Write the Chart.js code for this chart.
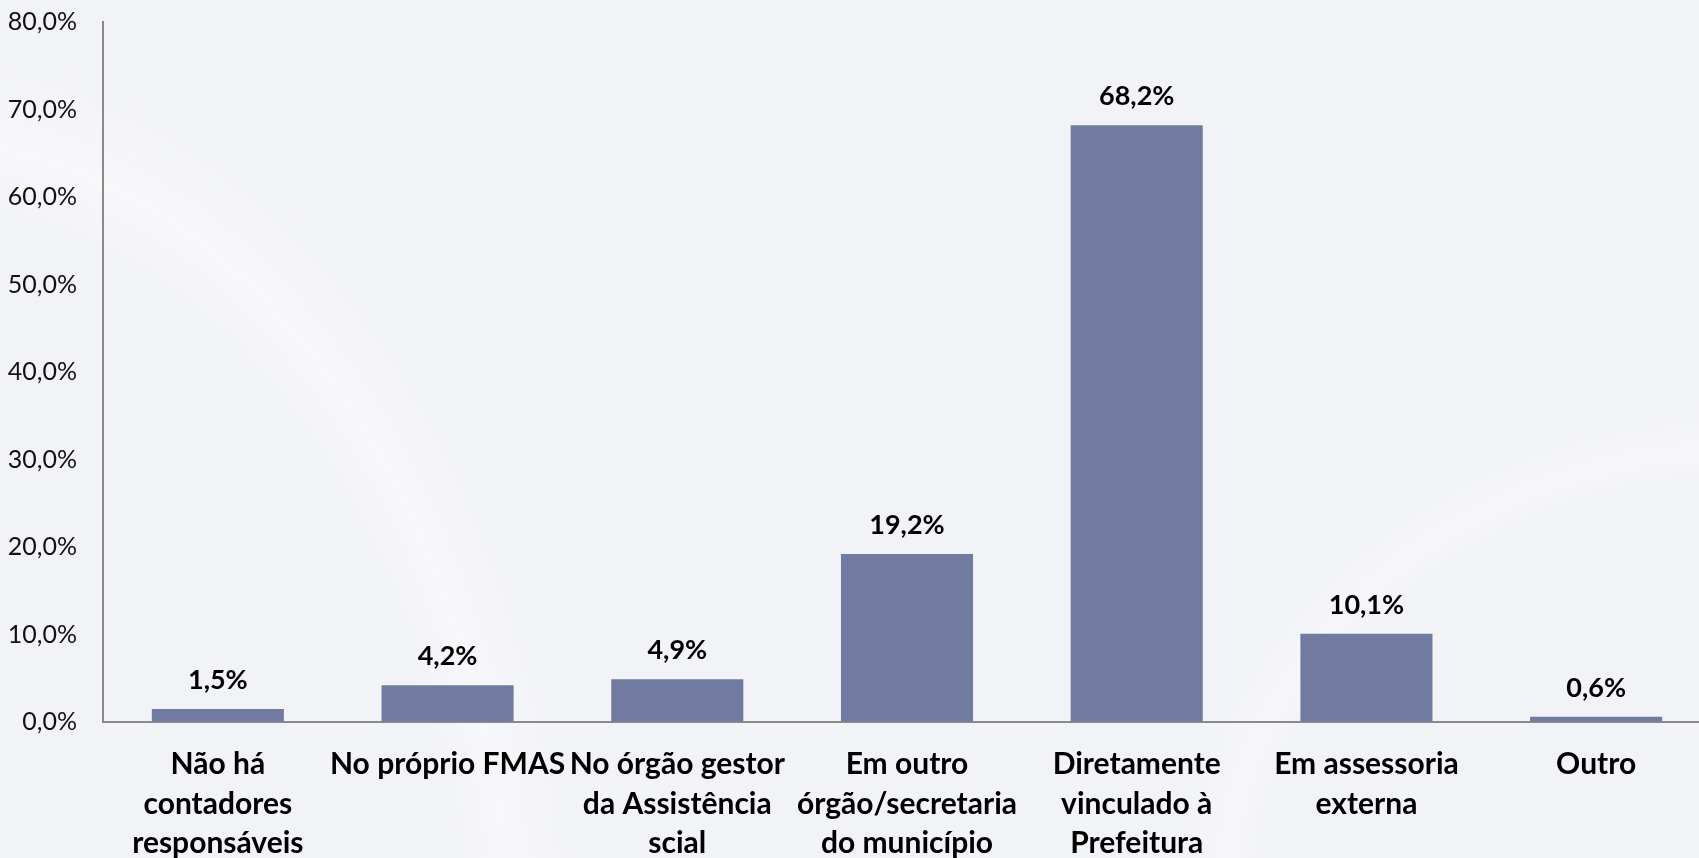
<!DOCTYPE html>
<html>
<head>
<meta charset="utf-8">
<script src="https://cdn.jsdelivr.net/npm/chart.js@4/dist/chart.umd.min.js"></script>
<style>
html,body{margin:0;padding:0;width:1699px;height:858px;overflow:hidden;}
body{background:#f2f3f7;
background-image:
 radial-gradient(ellipse 900px 1300px at -80px 1000px, rgba(255,255,255,0) 60%, rgba(255,255,255,0.4) 66%, rgba(255,255,255,0) 74%),
 radial-gradient(ellipse 700px 600px at 1750px 900px, rgba(255,255,255,0) 70%, rgba(255,255,255,0.35) 75%, rgba(255,255,255,0) 82%);
}
#wrap{position:absolute;left:0;top:0;width:1720px;height:858px;}
</style>
</head>
<body>
<div id="wrap"><canvas id="c"></canvas></div>
<script>
const categories = [
  ["Não há","contadores","responsáveis"],
  "No próprio FMAS",
  ["No órgão gestor","da Assistência","scial"],
  ["Em outro","órgão/secretaria","do município"],
  ["Diretamente","vinculado à","Prefeitura"],
  ["Em assessoria","externa"],
  "Outro"
];
const values = [1.5, 4.2, 4.9, 19.2, 68.2, 10.1, 0.6];
const yTicks = [0,10,20,30,40,50,60,70,80];

const fmt = v => v.toFixed(1).replace('.', ',') + '%';

const labelPlugin = {
  id: 'valueLabels',
  afterDatasetsDraw(chart){
    const ctx = chart.ctx;
    const meta = chart.getDatasetMeta(0);
    ctx.save();
    ctx.font = 'bold 27px Lato';
    ctx.fillStyle = '#000';
    ctx.textAlign = 'center';
    ctx.textBaseline = 'alphabetic';
    meta.data.forEach((bar, i) => {
      ctx.fillText(fmt(values[i]), bar.x, bar.y - 20);
    });
    ctx.restore();
  }
};

new Chart(document.getElementById('c'), {
  type: 'bar',
  data: {
    labels: categories,
    datasets: [{
      data: values,
      backgroundColor: '#717ba2',
      borderWidth: 0,
      barPercentage: 0.575,
      categoryPercentage: 1.0
    }]
  },
  options: {
    responsive: true,
    maintainAspectRatio: false,
    animation: false,
    layout: { padding: { top: 22, right: 9, left: 0, bottom: 0 } },
    plugins: { legend: { display: false }, tooltip: { enabled: false } },
    scales: {
      x: {
        grid: { display: false, drawTicks: false },
        border: { display: true, color: '#8a8a8a', width: 2 },
        ticks: {
          color: '#000',
          font: { family: 'Lato', size: 30, weight: 'bold', lineHeight: 1.33 },
          padding: 22,
          maxRotation: 0,
          autoSkip: false
        },
        afterFit(s){ s.height = 136; }
      },
      y: {
        min: 0, max: 80,
        afterBuildTicks(s){ s.ticks = yTicks.map(v => ({value: v})); },
        grid: { display: true, drawOnChartArea: false, drawTicks: true, tickLength: 26, tickColor: 'rgba(0,0,0,0)' },
        border: { display: true, color: '#8a8a8a', width: 2 },
        ticks: {
          color: '#111',
          font: { family: 'Lato', size: 25 },
          padding: 0,
          callback: v => fmt(v)
        },
        afterFit(s){ s.width = 103; }
      }
    }
  },
  plugins: [labelPlugin]
});
</script>
</body>
</html>
